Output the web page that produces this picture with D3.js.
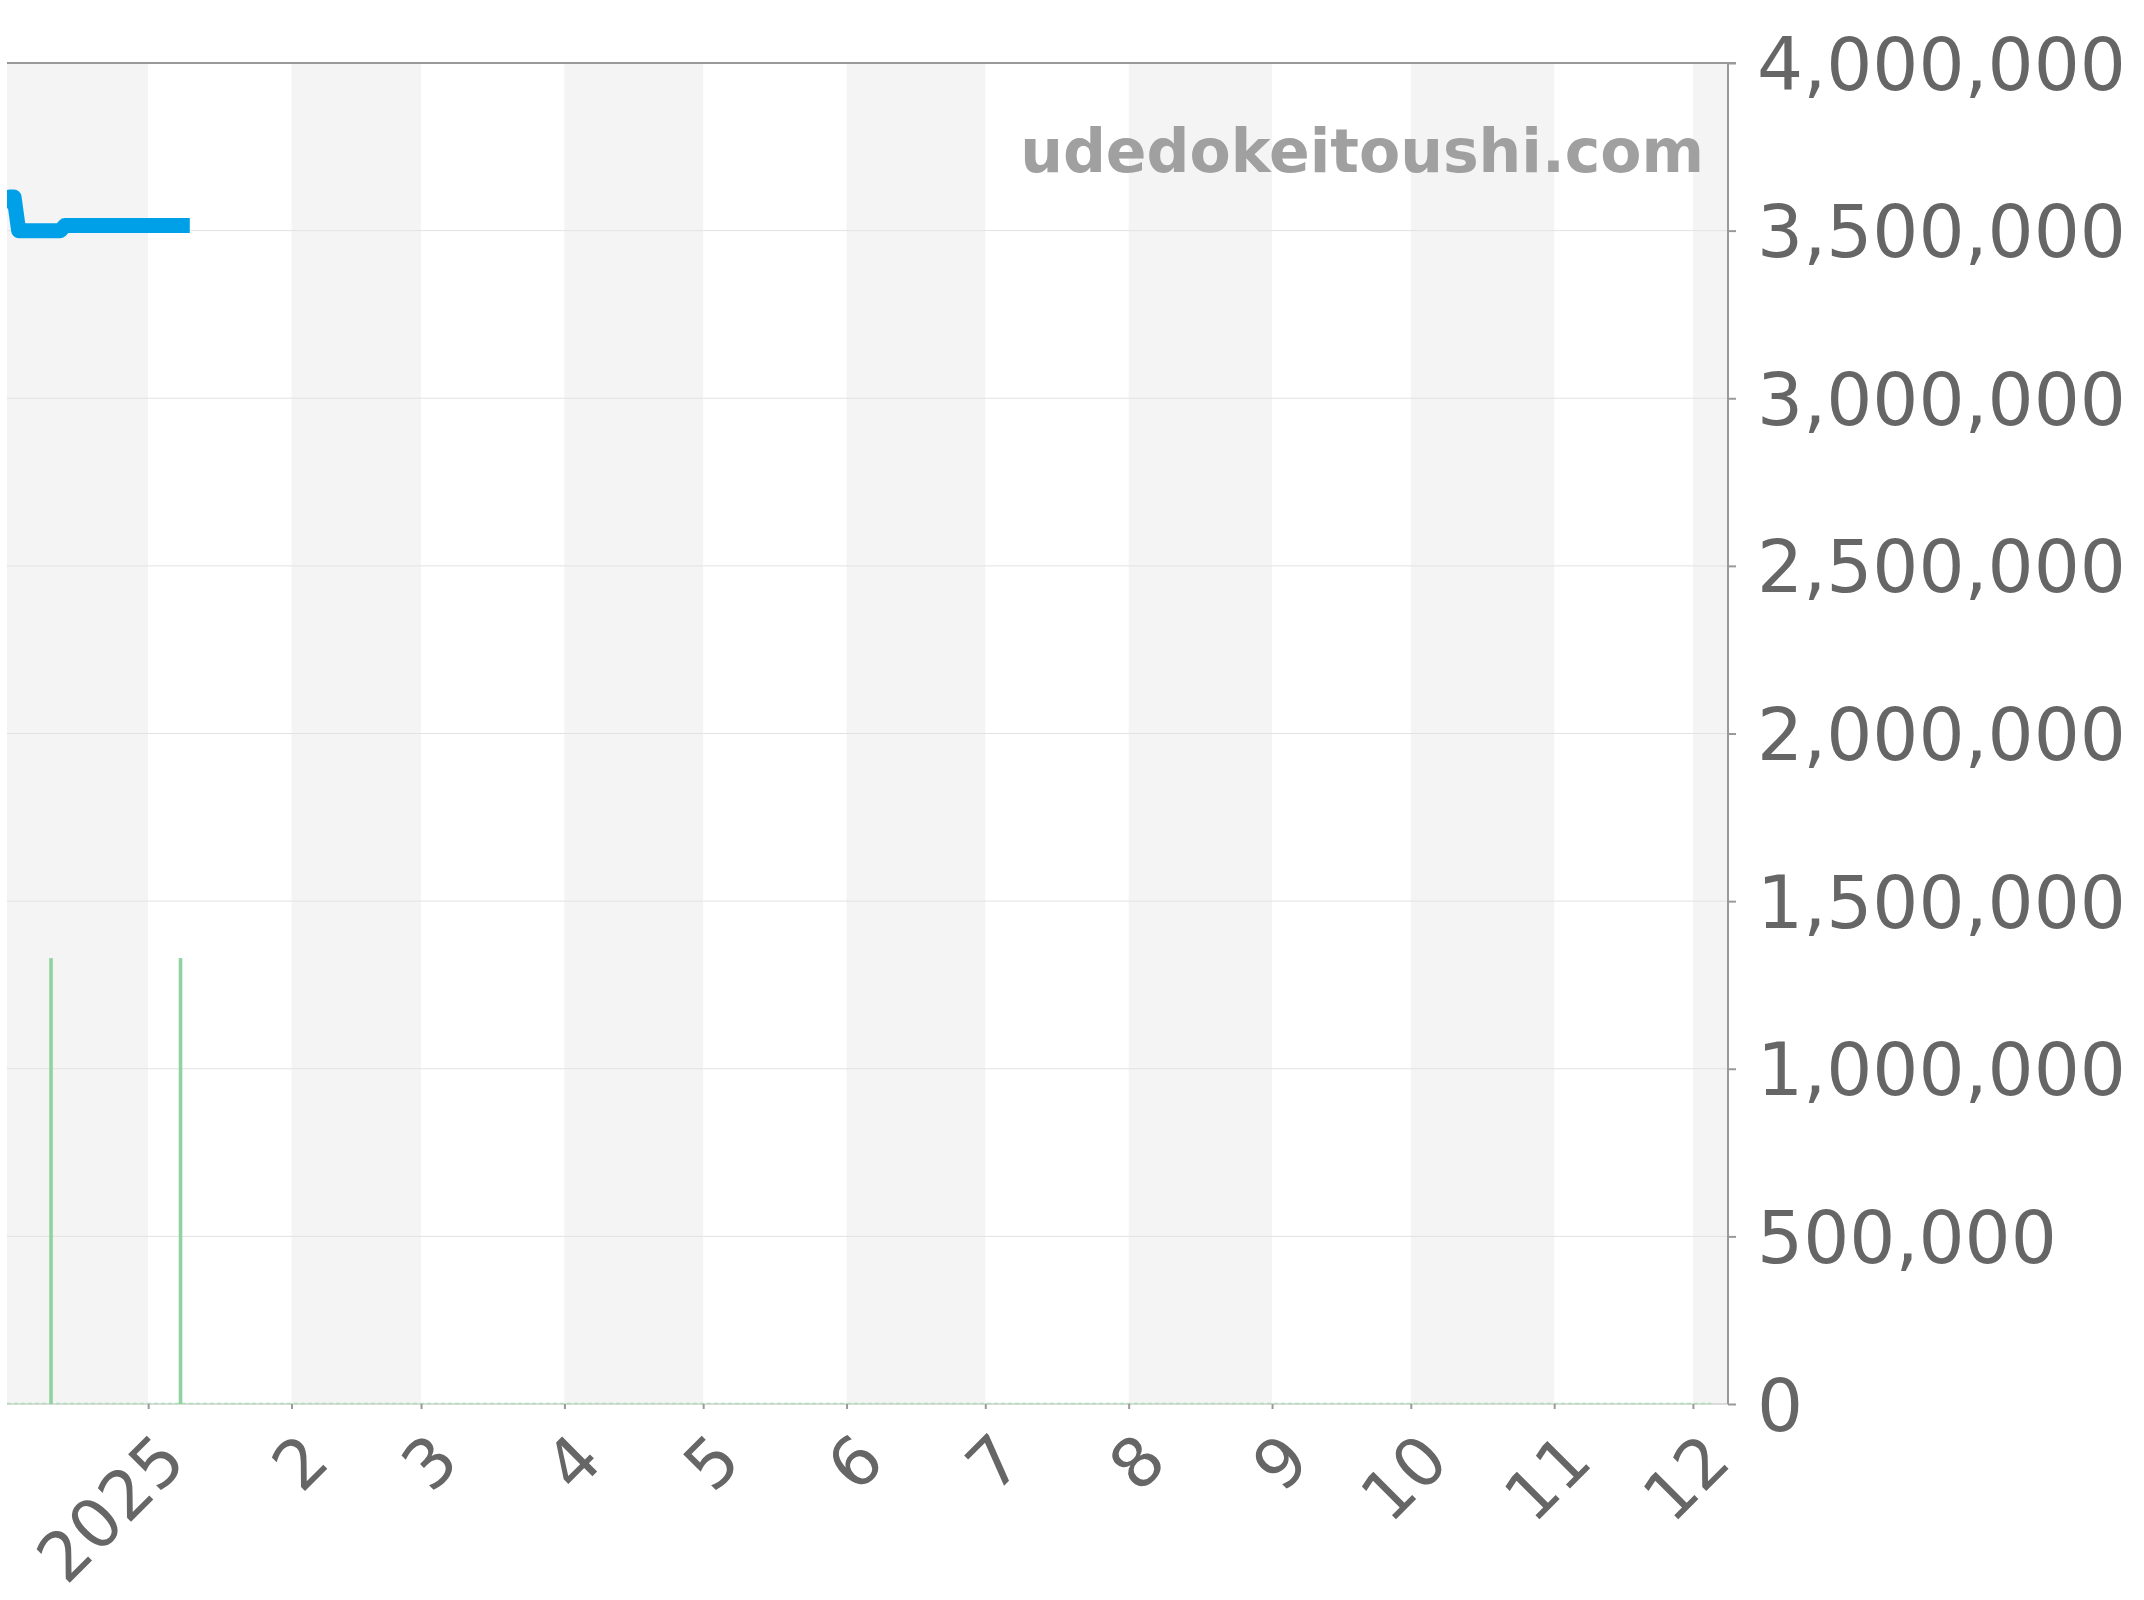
<!DOCTYPE html>
<html><head><meta charset="utf-8">
<script src="https://cdn.jsdelivr.net/npm/d3@7"></script>
<style>body{margin:0;background:#fff} svg{display:block} text{font-family:"DejaVu Sans",sans-serif}</style>
</head><body><svg id="c" width="2144" height="1600"></svg>
<script>
// ---- data ----
const priceDates  = ["2024-12-01","2024-12-02","2024-12-03","2024-12-04","2024-12-13","2024-12-14","2025-01-10"];
const priceValues = [3570000, 3600000, 3600000, 3500000, 3500000, 3515000, 3515000];
const volumeDates  = ["2024-12-11","2025-01-08"];
const volumeValues = [1330000, 1330000];
const volumeSpan   = ["2024-12-01","2025-12-05"];
const yTickValues  = [0,500000,1000000,1500000,2000000,2500000,3000000,3500000,4000000];
const monthLabels  = ["2025","2","3","4","5","6","7","8","9","10","11","12"];
const domainStart = new Date(2024,11,1,11,30);
const domainEnd   = new Date(2025,11,8,14,0);
const watermark = "udedokeitoushi.com";

const parse = d3.timeParse("%Y-%m-%d");
const svg = d3.select("#c");
const L=7, R=1728, T=63, B=1404;
const x = d3.scaleTime().domain([domainStart, domainEnd]).range([L,R]);
const y = d3.scaleLinear().domain([0,4000000]).range([B,T]);

svg.append("defs").append("clipPath").attr("id","clip")
  .append("rect").attr("x",L).attr("y",T-10).attr("width",R-L).attr("height",B-T+10);

// month bands
const bandMonths = d3.timeMonth.range(new Date(2024,11,1), new Date(2026,0,1));
svg.append("g").selectAll("rect").data(bandMonths.filter((d,i)=>i%2===0)).join("rect")
  .attr("x", d=>Math.max(L, x(d)))
  .attr("width", d=>Math.min(R, x(d3.timeMonth.offset(d,1))) - Math.max(L, x(d)))
  .attr("y",T).attr("height",B-T).attr("fill","#f4f4f4");

// grid
svg.append("g").selectAll("line").data(yTickValues.filter(v=>v>0&&v<4000000)).join("line")
  .attr("x1",L).attr("x2",R).attr("y1",d=>y(d)).attr("y2",d=>y(d))
  .attr("stroke","#e2e2e2").attr("stroke-width",1);

// bottom border
svg.append("line").attr("x1",L).attr("x2",R).attr("y1",B).attr("y2",B).attr("stroke","#d0d0d0").attr("stroke-width",1.5);

// volume baseline + bars
svg.append("line").attr("x1",Math.max(L,x(parse(volumeSpan[0])))).attr("x2",x(parse(volumeSpan[1])))
  .attr("y1",B-0.5).attr("y2",B-0.5).attr("stroke","#a8e0b4").attr("stroke-width",1.5).attr("stroke-dasharray","4,3");
svg.append("g").selectAll("rect").data(volumeDates.map((d,i)=>({d:parse(d),v:volumeValues[i]}))).join("rect")
  .attr("x",d=>x(d.d)-1.8).attr("width",3.6)
  .attr("y",d=>y(d.v)).attr("height",d=>B-y(d.v)).attr("fill","#8fd39f");

// price line
const pts = priceDates.map((d,i)=>({d:parse(d),v:priceValues[i]}));
svg.append("path").datum(pts).attr("clip-path","url(#clip)")
  .attr("d", d3.line().x(d=>x(d.d)).y(d=>y(d.v)))
  .attr("fill","none").attr("stroke","#00a0e9").attr("stroke-width",15)
  .attr("stroke-linejoin","round").attr("stroke-linecap","butt");

// top border
svg.append("line").attr("x1",L).attr("x2",R+8).attr("y1",T).attr("y2",T).attr("stroke","#999").attr("stroke-width",2);

// y axis (right)
const yAxis = svg.append("g").attr("transform",`translate(${R},0)`)
  .call(d3.axisRight(y).tickValues(yTickValues).tickFormat(d3.format(",")).tickSize(8).tickPadding(21));
yAxis.select(".domain").attr("stroke","#999").attr("stroke-width",2).attr("d",`M0,${T}V${B}`);
yAxis.selectAll(".tick line").attr("stroke","#999").attr("stroke-width",2);
yAxis.selectAll(".tick text").attr("fill","#666").attr("font-size",72.5).attr("dy","0.36em")
  .attr("font-family","DejaVu Sans");

// x axis
const monthTicks = d3.timeMonth.range(new Date(2025,0,1), new Date(2025,11,2));
const xAxis = svg.append("g").attr("transform",`translate(0,${B})`)
  .call(d3.axisBottom(x).tickValues(monthTicks).tickFormat((d,i)=>monthLabels[i]).tickSize(5));
xAxis.select(".domain").remove();
xAxis.selectAll(".tick line").attr("stroke","#999").attr("stroke-width",2);
xAxis.selectAll(".tick text").attr("fill","#666").attr("font-size",68).attr("font-family","DejaVu Sans")
  .attr("y",0).attr("dy",0).attr("text-anchor","end")
  .attr("transform","translate(40,60) rotate(-45)");

// watermark
svg.append("text").attr("x",1704).attr("y",172).attr("text-anchor","end")
  .attr("font-size",60).attr("font-weight","bold").attr("fill","#a0a0a0").text(watermark);
</script></body></html>
